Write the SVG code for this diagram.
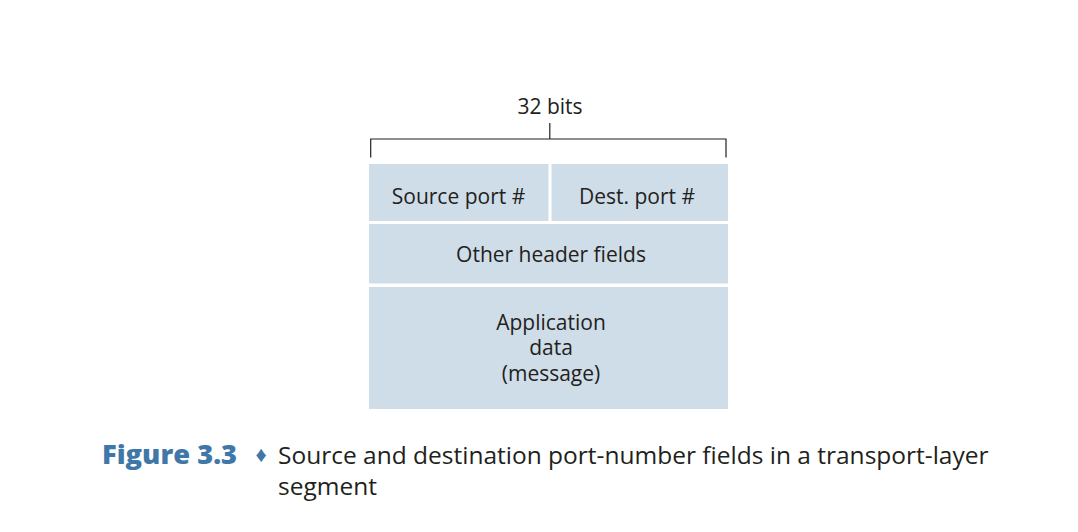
<svg xmlns="http://www.w3.org/2000/svg" width="1078" height="532" viewBox="0 0 1078 532">
<style>
.box{fill:#cfdde9}
.lbl{font-family:"Open Sans","Liberation Sans",sans-serif;font-size:21px;fill:#231f20;text-anchor:middle}
.br{fill:none;stroke:#231f20;stroke-width:1.2}
.cap{font-family:"Open Sans","Liberation Sans",sans-serif;font-size:24.5px;fill:#231f20}
.fig{font-family:"Open Sans","Liberation Sans",sans-serif;font-size:26px;font-weight:800;fill:#3f77a9}
</style>
<rect width="1078" height="532" fill="#ffffff"/>
<g id="connectors">
<path class="br" d="M370.7,157.5 V139 H726 V157.5 M549.8,139 V123"/>
</g>
<text class="lbl" x="550" y="114">32 bits</text>
<g id="source-port">
<rect class="box" x="369" y="164" width="179.5" height="57"/>
<text class="lbl" x="458.5" y="203.5">Source port #</text>
</g>
<g id="dest-port">
<rect class="box" x="551.5" y="164" width="176.5" height="57"/>
<text class="lbl" x="637" y="203.5">Dest. port #</text>
</g>
<g id="other-header">
<rect class="box" x="369" y="224" width="359" height="59.5"/>
<text class="lbl" x="551" y="262">Other header fields</text>
</g>
<g id="app-data">
<rect class="box" x="369" y="287" width="359" height="122"/>
<text class="lbl" x="551" y="329.5">Application</text>
<text class="lbl" x="551" y="355">data</text>
<text class="lbl" x="551" y="380.5">(message)</text>
</g>
<g id="caption">
<text class="fig" x="102" y="463.5" textLength="135" lengthAdjust="spacingAndGlyphs">Figure 3.3</text>
<text class="fig" x="261" y="462" style="font-size:22px;font-weight:normal;text-anchor:middle">♦</text>
<text class="cap" x="278" y="463.5">Source and destination port-number fields in a transport-layer</text>
<text class="cap" x="278" y="495">segment</text>
</g>
</svg>
